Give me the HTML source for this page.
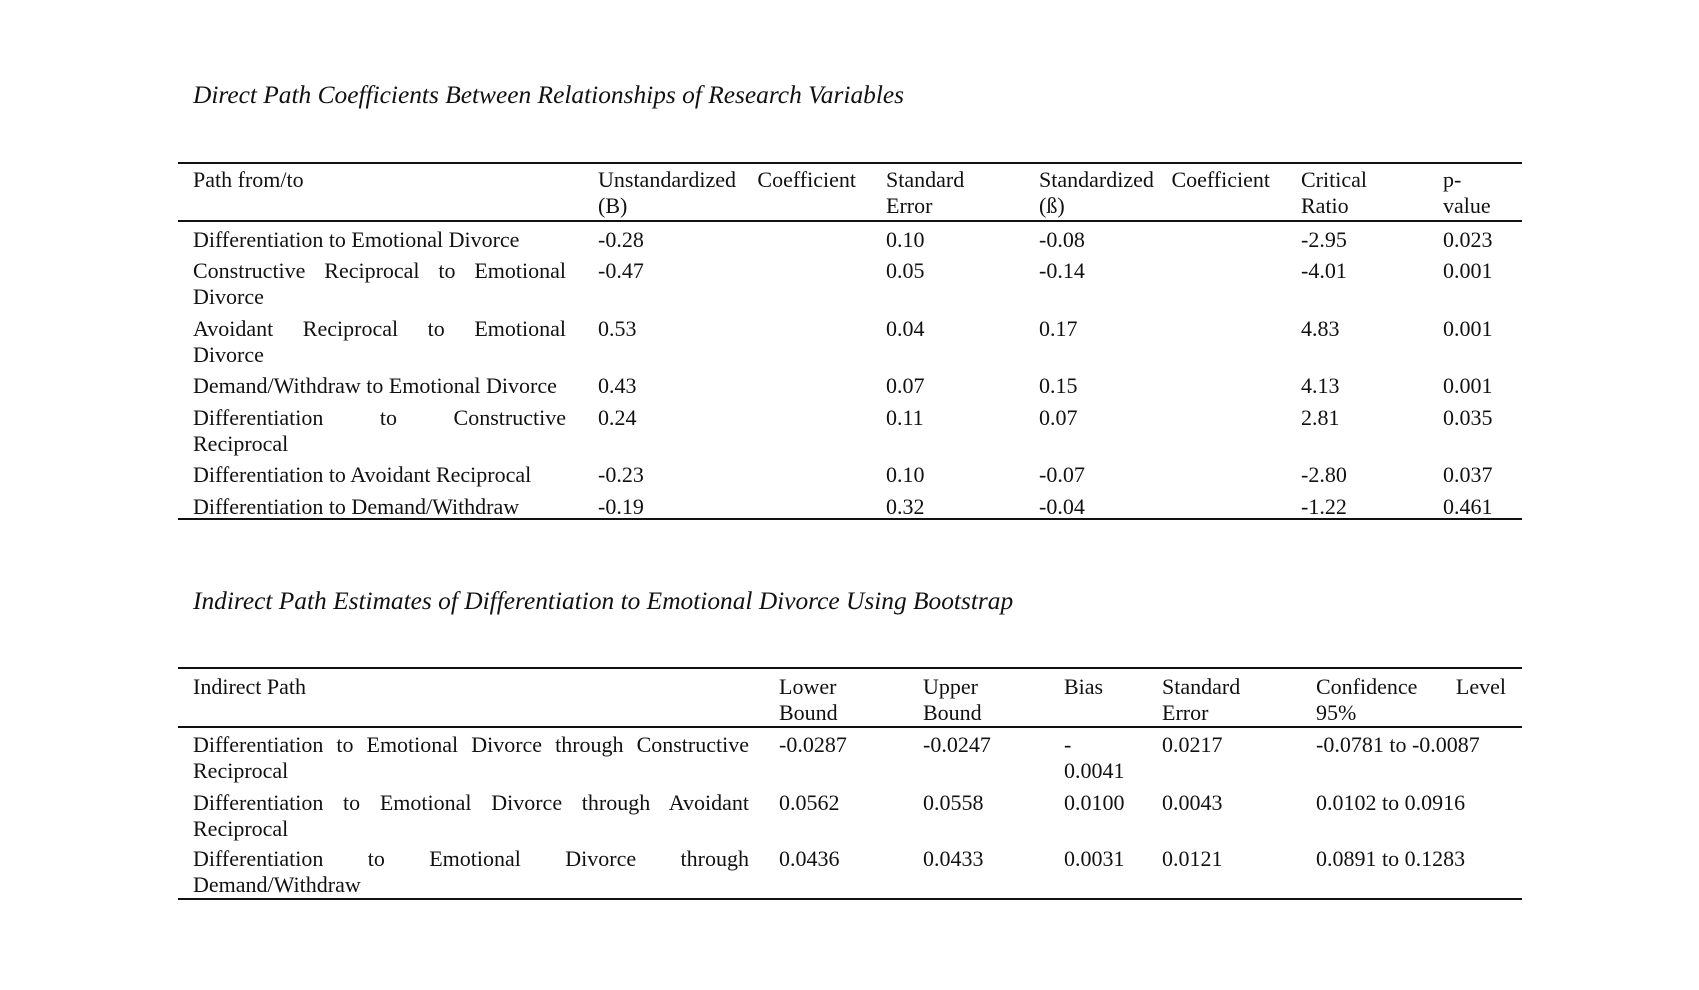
<!DOCTYPE html>
<html><head><meta charset="utf-8"><style>
html,body{margin:0;padding:0;background:#fff;}
body{width:1699px;height:990px;position:relative;overflow:hidden;font-family:"Liberation Serif","Times New Roman",serif;color:#111;}
.t{position:absolute;font-size:22px;line-height:26px;white-space:nowrap;}
.j{text-align:justify;text-align-last:justify;white-space:normal;}
.ti{position:absolute;font-style:italic;font-size:25.4px;white-space:nowrap;}
.r{position:absolute;height:1.5px;background:#111;left:178px;width:1344px;}
</style></head><body>
<div class="ti" style="left:193px;top:81px;">Direct Path Coefficients Between Relationships of Research Variables</div>
<div class="r" style="top:162px"></div>
<div class="r" style="top:220px"></div>
<div class="r" style="top:518px"></div>

<div class="t" style="left:193px;top:167px">Path from/to</div>
<div class="t j" style="left:598px;top:167px;width:258px">Unstandardized Coefficient</div>
<div class="t" style="left:598px;top:193px">(B)</div>
<div class="t" style="left:886px;top:167px">Standard</div>
<div class="t" style="left:886px;top:193px">Error</div>
<div class="t j" style="left:1039px;top:167px;width:231px">Standardized Coefficient</div>
<div class="t" style="left:1039px;top:193px">(ß)</div>
<div class="t" style="left:1301px;top:167px">Critical</div>
<div class="t" style="left:1301px;top:193px">Ratio</div>
<div class="t" style="left:1443px;top:167px">p-</div>
<div class="t" style="left:1443px;top:193px">value</div>

<div class="t" style="left:193px;top:227px">Differentiation to Emotional Divorce</div>
<div class="t j" style="left:193px;top:258px;width:373px">Constructive Reciprocal to Emotional</div>
<div class="t" style="left:193px;top:284px">Divorce</div>
<div class="t j" style="left:193px;top:316px;width:373px">Avoidant Reciprocal to Emotional</div>
<div class="t" style="left:193px;top:342px">Divorce</div>
<div class="t" style="left:193px;top:373px">Demand/Withdraw to Emotional Divorce</div>
<div class="t j" style="left:193px;top:405px;width:373px">Differentiation to Constructive</div>
<div class="t" style="left:193px;top:431px">Reciprocal</div>
<div class="t" style="left:193px;top:462px">Differentiation to Avoidant Reciprocal</div>
<div class="t" style="left:193px;top:494px">Differentiation to Demand/Withdraw</div>

<div class="t" style="left:598px;top:227px">-0.28</div><div class="t" style="left:886px;top:227px">0.10</div><div class="t" style="left:1039px;top:227px">-0.08</div><div class="t" style="left:1301px;top:227px">-2.95</div><div class="t" style="left:1443px;top:227px">0.023</div>
<div class="t" style="left:598px;top:258px">-0.47</div><div class="t" style="left:886px;top:258px">0.05</div><div class="t" style="left:1039px;top:258px">-0.14</div><div class="t" style="left:1301px;top:258px">-4.01</div><div class="t" style="left:1443px;top:258px">0.001</div>
<div class="t" style="left:598px;top:316px">0.53</div><div class="t" style="left:886px;top:316px">0.04</div><div class="t" style="left:1039px;top:316px">0.17</div><div class="t" style="left:1301px;top:316px">4.83</div><div class="t" style="left:1443px;top:316px">0.001</div>
<div class="t" style="left:598px;top:373px">0.43</div><div class="t" style="left:886px;top:373px">0.07</div><div class="t" style="left:1039px;top:373px">0.15</div><div class="t" style="left:1301px;top:373px">4.13</div><div class="t" style="left:1443px;top:373px">0.001</div>
<div class="t" style="left:598px;top:405px">0.24</div><div class="t" style="left:886px;top:405px">0.11</div><div class="t" style="left:1039px;top:405px">0.07</div><div class="t" style="left:1301px;top:405px">2.81</div><div class="t" style="left:1443px;top:405px">0.035</div>
<div class="t" style="left:598px;top:462px">-0.23</div><div class="t" style="left:886px;top:462px">0.10</div><div class="t" style="left:1039px;top:462px">-0.07</div><div class="t" style="left:1301px;top:462px">-2.80</div><div class="t" style="left:1443px;top:462px">0.037</div>
<div class="t" style="left:598px;top:494px">-0.19</div><div class="t" style="left:886px;top:494px">0.32</div><div class="t" style="left:1039px;top:494px">-0.04</div><div class="t" style="left:1301px;top:494px">-1.22</div><div class="t" style="left:1443px;top:494px">0.461</div>

<div class="ti" style="left:193px;top:587px;">Indirect Path Estimates of Differentiation to Emotional Divorce Using Bootstrap</div>
<div class="r" style="top:667px"></div>
<div class="r" style="top:726px"></div>
<div class="r" style="top:898px"></div>

<div class="t" style="left:193px;top:674px">Indirect Path</div>
<div class="t" style="left:779px;top:674px">Lower</div>
<div class="t" style="left:779px;top:700px">Bound</div>
<div class="t" style="left:923px;top:674px">Upper</div>
<div class="t" style="left:923px;top:700px">Bound</div>
<div class="t" style="left:1064px;top:674px">Bias</div>
<div class="t" style="left:1162px;top:674px">Standard</div>
<div class="t" style="left:1162px;top:700px">Error</div>
<div class="t j" style="left:1316px;top:674px;width:190px">Confidence Level</div>
<div class="t" style="left:1316px;top:700px">95%</div>

<div class="t j" style="left:193px;top:732px;width:556px">Differentiation to Emotional Divorce through Constructive</div>
<div class="t" style="left:193px;top:758px">Reciprocal</div>
<div class="t j" style="left:193px;top:790px;width:556px">Differentiation to Emotional Divorce through Avoidant</div>
<div class="t" style="left:193px;top:816px">Reciprocal</div>
<div class="t j" style="left:193px;top:846px;width:556px">Differentiation to Emotional Divorce through</div>
<div class="t" style="left:193px;top:872px">Demand/Withdraw</div>

<div class="t" style="left:779px;top:732px">-0.0287</div><div class="t" style="left:923px;top:732px">-0.0247</div><div class="t" style="left:1064px;top:732px">-</div><div class="t" style="left:1064px;top:758px">0.0041</div><div class="t" style="left:1162px;top:732px">0.0217</div><div class="t" style="left:1316px;top:732px">-0.0781 to -0.0087</div>
<div class="t" style="left:779px;top:790px">0.0562</div><div class="t" style="left:923px;top:790px">0.0558</div><div class="t" style="left:1064px;top:790px">0.0100</div><div class="t" style="left:1162px;top:790px">0.0043</div><div class="t" style="left:1316px;top:790px">0.0102 to 0.0916</div>
<div class="t" style="left:779px;top:846px">0.0436</div><div class="t" style="left:923px;top:846px">0.0433</div><div class="t" style="left:1064px;top:846px">0.0031</div><div class="t" style="left:1162px;top:846px">0.0121</div><div class="t" style="left:1316px;top:846px">0.0891 to 0.1283</div>
</body></html>
